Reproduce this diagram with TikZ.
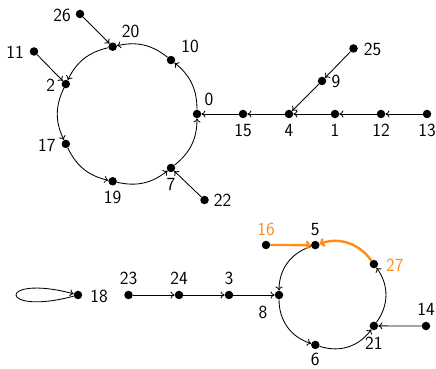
\documentclass[tikz,border=0pt]{standalone}
\usetikzlibrary{arrows.meta}
\definecolor{hl}{RGB}{255,140,26}
\begin{document}
\begin{tikzpicture}[x=1pt,y=1pt,
  dot/.style={circle,fill=black,inner sep=0pt,minimum size=8.5pt},
  lab/.style={inner sep=0pt,font=\fontsize{18.5}{22}\selectfont\sffamily},
  edge/.style={-{To[length=4pt,width=7pt]},line width=0.85pt},
  hedge/.style={-{To[length=5pt,width=9pt]},line width=2.4pt,draw=hl},
  cyc/.style={edge,bend right=25.7},
  cycb/.style={edge,bend right=36}]
\useasboundingbox (0,0) rectangle (436,369);
% top cycle
\node[dot] (n0) at (197,255) {};
\node[dot] (n10) at (171.0,308.95) {};
\node[dot] (n20) at (112.65,322.27) {};
\node[dot] (n2) at (65.83,284.94) {};
\node[dot] (n17) at (65.83,225.06) {};
\node[dot] (n19) at (112.65,187.73) {};
\node[dot] (n7) at (171.0,201.05) {};
\node[dot] (n26) at (80,355) {};
\node[dot] (n11) at (34,317.5) {};
\node[dot] (n22) at (204.5,169) {};
\node[dot] (n15) at (243,255) {};
\node[dot] (n4) at (289,255) {};
\node[dot] (n1) at (335,255) {};
\node[dot] (n12) at (381,255) {};
\node[dot] (n13) at (427,255) {};
\node[dot] (n9) at (322,288) {};
\node[dot] (n25) at (353.5,320.5) {};
% bottom
\node[dot] (n18) at (78,74) {};
\node[dot] (n23) at (128.5,74) {};
\node[dot] (n24) at (179,74) {};
\node[dot] (n3) at (229,74) {};
\node[dot] (n8) at (279,74) {};
\node[dot] (n5) at (315.3,123.9) {};
\node[dot] (n27) at (373.9,104.9) {};
\node[dot] (n21) at (373.9,43.1) {};
\node[dot] (n6) at (315.3,24.1) {};
\node[dot] (n16) at (266,124) {};
\node[dot] (n14) at (426,43) {};
% labels
\node[lab] (l0) at ([shift={(12,15)}]n0.center) {0};
\node[lab] (l10) at ([shift={(19,14)}]n10.center) {10};
\node[lab] (l20) at ([shift={(18,15)}]n20.center) {20};
\node[lab] (l2) at ([shift={(-15,-1)}]n2.center) {2};
\node[lab] (l17) at ([shift={(-19,-1)}]n17.center) {17};
\node[lab] (l19) at ([shift={(0,-16)}]n19.center) {19};
\node[lab] (l7) at ([shift={(0,-17)}]n7.center) {7};
\node[lab] (l26) at ([shift={(-18,-1)}]n26.center) {26};
\node[lab] (l11) at ([shift={(-19,-1)}]n11.center) {11};
\node[lab] (l22) at ([shift={(18,0)}]n22.center) {22};
\node[lab] (l15) at ([shift={(0,-16)}]n15.center) {15};
\node[lab] (l4) at ([shift={(0,-16)}]n4.center) {4};
\node[lab] (l1) at ([shift={(0,-16)}]n1.center) {1};
\node[lab] (l12) at ([shift={(0,-16)}]n12.center) {12};
\node[lab] (l13) at ([shift={(0,-16)}]n13.center) {13};
\node[lab] (l9) at ([shift={(14,0)}]n9.center) {9};
\node[lab] (l25) at ([shift={(19,-1)}]n25.center) {25};
\node[lab] (l18) at ([shift={(21,-1)}]n18.center) {18};
\node[lab] (l23) at ([shift={(0,17)}]n23.center) {23};
\node[lab] (l24) at ([shift={(0,17)}]n24.center) {24};
\node[lab] (l3) at ([shift={(0,17)}]n3.center) {3};
\node[lab] (l8) at ([shift={(-16,-17)}]n8.center) {8};
\node[lab] (l5) at ([shift={(0,16)}]n5.center) {5};
\node[lab,text=hl] (l16) at ([shift={(0,16)}]n16.center) {16};
\node[lab,text=hl] (l27) at ([shift={(21,-1)}]n27.center) {27};
\node[lab] (l14) at ([shift={(0,17)}]n14.center) {14};
\node[lab] (l21) at ([shift={(0,-17)}]n21.center) {21};
\node[lab] (l6) at ([shift={(0,-15)}]n6.center) {6};
% top edges
\draw[cyc] (n0) to (n10);
\draw[cyc] (n10) to (n20);
\draw[cyc] (n20) to (n2);
\draw[cyc] (n2) to (n17);
\draw[cyc] (n17) to (n19);
\draw[cyc] (n19) to (n7);
\draw[cyc] (n7) to (n0);
\draw[edge] (n26) -- (n20);
\draw[edge] (n11) -- (n2);
\draw[edge] (n22) -- (n7);
\draw[edge] (n13) -- (n12);
\draw[edge] (n12) -- (n1);
\draw[edge] (n1) -- (n4);
\draw[edge] (n4) -- (n15);
\draw[edge] (n15) -- (n0);
\draw[edge] (n25) -- (n9);
\draw[edge] (n9) -- (n4);
% bottom edges
\draw[edge] (n18) .. controls +(195:84) and +(165:84) .. (n18);
\draw[edge] (n23) -- (n24);
\draw[edge] (n24) -- (n3);
\draw[edge] (n3) -- (n8);
\draw[cycb] (n5) to (n8);
\draw[cycb] (n8) to (n6);
\draw[cycb] (n6) to (n21);
\draw[cycb] (n21) to (n27);
\draw[hedge,bend right=36] (n27) to (n5);
\draw[hedge] (n16) -- (n5);
\draw[edge] (n14) -- (n21);
\end{tikzpicture}
\end{document}
